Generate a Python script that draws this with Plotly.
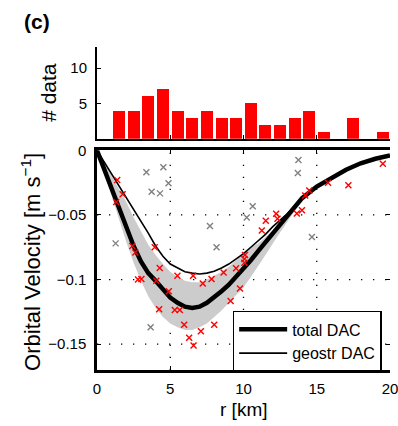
import plotly.graph_objects as go

# ---------------- data ----------------
# histogram of data per 1-km bin
hist_centers = [1.5, 2.5, 3.5, 4.5, 5.5, 6.5, 7.5, 8.5, 9.5, 10.5,
                11.5, 12.5, 13.5, 14.5, 15.5, 16.5, 17.5, 18.5, 19.5]
hist_counts = [4, 4, 6, 7, 4, 3, 4, 3, 3, 5, 2, 2, 3, 4, 1, 0, 3, 0, 1]

# curves
r_grid = [0, 0.5, 1, 1.5, 2, 2.5, 3, 3.5, 4, 4.5, 5, 5.5, 6, 6.5, 7, 7.5, 8, 8.5,
          9, 9.5, 10, 10.5, 11, 11.5, 12, 12.5, 13, 13.5, 14, 15, 16, 17, 18, 19, 20]
total_dac = [0, -0.015, -0.030, -0.045, -0.060, -0.074, -0.086, -0.095, -0.101, -0.108,
             -0.114, -0.118, -0.121, -0.122, -0.121, -0.118, -0.114, -0.109, -0.104, -0.098,
             -0.091, -0.085, -0.078, -0.071, -0.064, -0.057, -0.050, -0.043, -0.037, -0.028,
             -0.021, -0.015, -0.010, -0.0065, -0.004]
geostr_dac = [0, -0.009, -0.018, -0.027, -0.036, -0.045, -0.054, -0.064, -0.074, -0.082,
              -0.088, -0.091, -0.094, -0.095, -0.0957, -0.095, -0.0935, -0.091, -0.088, -0.084,
              -0.080, -0.075, -0.070, -0.065, -0.059, -0.054, -0.049, -0.043, -0.037, -0.028,
              -0.021, -0.015, -0.010, -0.0065, -0.004]
band_lower = [0, -0.018, -0.036, -0.054, -0.071, -0.087, -0.101, -0.113, -0.122, -0.129,
              -0.134, -0.137, -0.139, -0.139, -0.137, -0.134, -0.129, -0.124, -0.118, -0.112,
              -0.106, -0.098, -0.090, -0.081, -0.072, -0.063, -0.055, -0.047, -0.039, -0.028,
              -0.021, -0.015, -0.010, -0.0065, -0.004]
band_upper = [0, -0.010, -0.020, -0.030, -0.040, -0.052, -0.063, -0.073, -0.081, -0.088,
              -0.094, -0.098, -0.101, -0.102, -0.102, -0.100, -0.097, -0.094, -0.090, -0.085,
              -0.080, -0.075, -0.072, -0.067, -0.062, -0.056, -0.050, -0.043, -0.037, -0.028,
              -0.021, -0.015, -0.010, -0.0065, -0.004]

# observations
red_r = [1.38, 1.75, 1.31, 2.41, 2.62, 3.94, 4.28, 5.49, 6.56, 2.80, 3.03, 4.05, 4.90, 4.24,
         5.31, 5.65, 5.95, 6.29, 6.59, 7.22, 7.82, 8.64, 9.49, 10.10, 10.06, 10.06, 9.76,
         9.12, 8.00, 7.09, 11.25, 11.52, 12.23, 12.32, 13.64, 13.99, 14.21, 14.49, 15.77,
         17.16, 19.51]
red_v = [-0.023, -0.034, -0.040, -0.074, -0.079, -0.075, -0.091, -0.097, -0.097, -0.100,
         -0.0995, -0.101, -0.109, -0.123, -0.1235, -0.1235, -0.135, -0.145, -0.151, -0.103,
         -0.0995, -0.0945, -0.0913, -0.081, -0.084, -0.087, -0.107, -0.1166, -0.135, -0.140,
         -0.062, -0.0545, -0.049, -0.053, -0.0488, -0.0464, -0.035, -0.031, -0.025, -0.027,
         -0.0104]
gray_r = [3.37, 4.53, 4.88, 3.73, 4.30, 1.27, 3.66, 7.71, 8.16, 10.63, 10.22, 13.75, 13.71, 14.67]
gray_v = [-0.017, -0.013, -0.0255, -0.032, -0.0333, -0.072, -0.137, -0.0585, -0.075, -0.0433,
          -0.052, -0.0075, -0.0176, -0.067]

# ticks
x_ticks = [0, 5, 10, 15, 20]
x_ticktext = ["0", "5", "10", "15", "20"]
x_grid = [5, 10, 15]
v_ticks = [0, -0.05, -0.1, -0.15]
v_ticktext = ["0", "\u22120.05", "\u22120.1", "\u22120.15"]
v_grid = [-0.05, -0.1, -0.15]
h_ticks = [5, 10]
h_ticktext = ["5", "10"]

FONT = "Liberation Sans, Arial, Helvetica, sans-serif"

fig = go.Figure()

# histogram (top panel)
fig.add_trace(go.Bar(x=hist_centers, y=hist_counts, width=0.82,
                     marker=dict(color="rgb(255,0,0)", line=dict(width=0)),
                     showlegend=False, xaxis="x", yaxis="y"))

# uncertainty band
fig.add_trace(go.Scatter(x=r_grid, y=band_upper, mode="lines", line=dict(width=0, color="rgba(0,0,0,0)"),
                         showlegend=False, hoverinfo="skip", xaxis="x2", yaxis="y2"))
fig.add_trace(go.Scatter(x=r_grid, y=band_lower, mode="lines", line=dict(width=0, color="rgba(0,0,0,0)"),
                         fill="tonexty", fillcolor="rgb(204,204,204)",
                         showlegend=False, hoverinfo="skip", xaxis="x2", yaxis="y2"))

# curves
fig.add_trace(go.Scatter(x=r_grid, y=total_dac, mode="lines", name="total DAC",
                         line=dict(color="black", width=4.5), xaxis="x2", yaxis="y2"))
fig.add_trace(go.Scatter(x=r_grid, y=geostr_dac, mode="lines", name="geostr DAC",
                         line=dict(color="black", width=1.6), xaxis="x2", yaxis="y2"))

# observations
fig.add_trace(go.Scatter(x=gray_r, y=gray_v, mode="markers", showlegend=False,
                         marker=dict(symbol="x-thin", size=6, line=dict(width=1.4, color="rgb(128,128,128)")),
                         xaxis="x2", yaxis="y2"))
fig.add_trace(go.Scatter(x=red_r, y=red_v, mode="markers", showlegend=False,
                         marker=dict(symbol="x-thin", size=6, line=dict(width=1.4, color="rgb(255,0,0)")),
                         xaxis="x2", yaxis="y2"))

# empty trace to hold the right-hand tick axis
fig.add_trace(go.Scatter(x=[], y=[], showlegend=False, hoverinfo="skip", xaxis="x2", yaxis="y3"))

shapes = []
for gx in x_grid:
    shapes.append(dict(type="line", xref="x2", yref="y2 domain", x0=gx, x1=gx, y0=0, y1=1,
                       line=dict(color="black", width=1.3, dash="1.3px,10.7px"), layer="below"))
for gy in v_grid:
    shapes.append(dict(type="line", xref="x2 domain", yref="y2", x0=0, x1=1, y0=gy, y1=gy,
                       line=dict(color="black", width=1.3, dash="1.3px,10.7px"), layer="below"))

axis_common = dict(showgrid=False, zeroline=False, linecolor="black", ticks="inside",
                   tickcolor="black", ticklen=4, ticklabeloverflow="allow", automargin=False,
                   tickfont=dict(size=15, color="black", family=FONT))

fig.update_layout(
    width=398, height=426,
    margin=dict(l=97, r=8, t=47, b=56),
    paper_bgcolor="white", plot_bgcolor="white",
    font=dict(family=FONT, color="black"),
    bargap=0,
    xaxis=dict(domain=[0, 1], range=[0, 20], anchor="y", tickvals=x_ticks,
               showticklabels=False, showline=True, linewidth=2, **axis_common),
    yaxis=dict(domain=[0.716, 1], range=[0, 13], anchor="x", tickvals=h_ticks, ticktext=h_ticktext,
               showline=True, linewidth=2, ticklabelstandoff=5, **axis_common),
    xaxis2=dict(domain=[0, 1], range=[0, 20], anchor="y2", tickvals=x_ticks, ticktext=x_ticktext,
                showline=True, linewidth=2.5, mirror="ticks", ticklabelstandoff=3, **axis_common),
    yaxis2=dict(domain=[0, 0.680], range=[-0.17, 0], anchor="x2", tickvals=v_ticks, ticktext=v_ticktext,
                showline=True, linewidth=2.5, ticklabelstandoff=5, **axis_common),
    yaxis3=dict(overlaying="y2", side="right", anchor="x2", range=[-0.17, 0], tickvals=v_ticks,
                showticklabels=False, showline=False, showgrid=False, zeroline=False,
                ticks="inside", ticklen=4, tickcolor="black", automargin=False),
    shapes=shapes,
    legend=dict(x=0.463, y=0.183, xanchor="left", yanchor="top", xref="paper", yref="paper",
                traceorder="normal", bgcolor="white", bordercolor="black", borderwidth=1.5,
                itemwidth=48, font=dict(size=16, family=FONT, color="black"), tracegroupgap=0),
    annotations=[
        dict(text="<b>(c)</b>", xref="paper", yref="paper", x=-0.255, y=1.078,
             xanchor="left", yanchor="middle", showarrow=False, font=dict(size=21, family=FONT)),
        dict(text="# data", xref="paper", yref="paper", x=-0.164, y=0.861, textangle=-90,
             xanchor="center", yanchor="middle", showarrow=False, font=dict(size=21, family=FONT)),
        dict(text="Orbital Velocity [m s<sup>\u22121</sup>]", xref="paper", yref="paper",
             x=-0.226, y=0.334, textangle=-90, xanchor="center", yanchor="middle",
             showarrow=False, font=dict(size=22, family=FONT)),
        dict(text="r [km]", xref="paper", yref="paper", x=0.5, y=-0.121,
             xanchor="center", yanchor="middle", showarrow=False, font=dict(size=19, family=FONT)),
    ],
)

fig.write_html("out.html", post_script="document.body.style.margin='0px';",
               config={"displayModeBar": False})
